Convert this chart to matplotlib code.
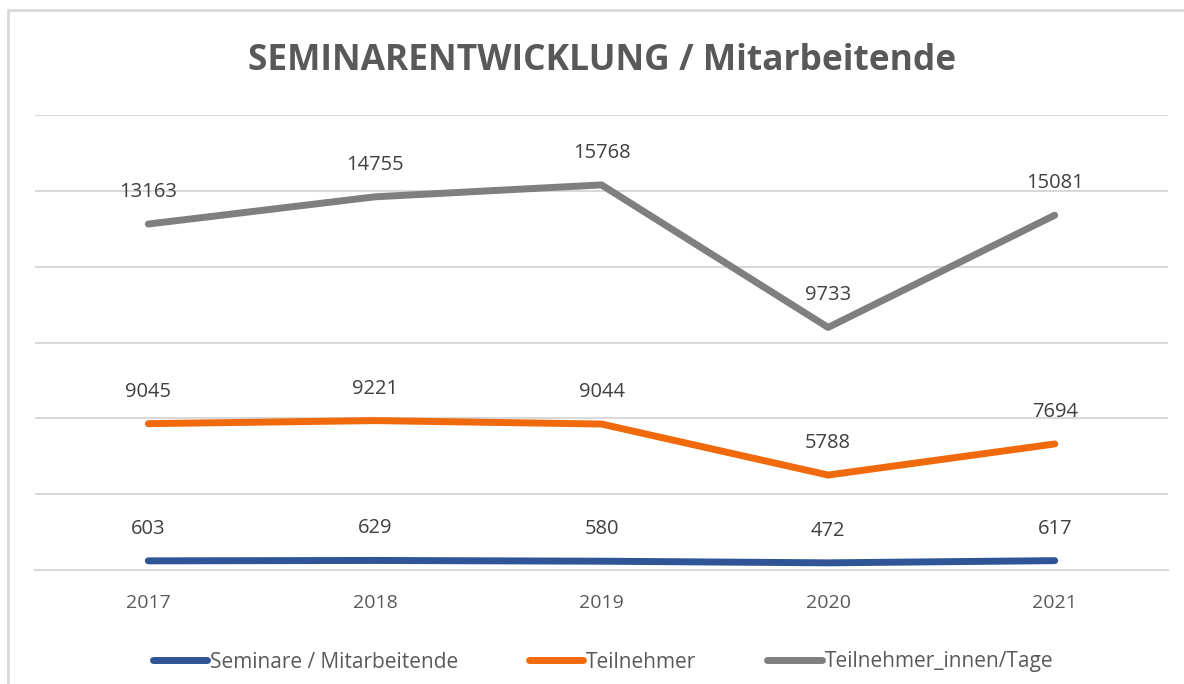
import numpy as np
import matplotlib.pyplot as plt
from matplotlib.patches import Rectangle

# data (stacked line chart, labels show the single values)
years = ["2017", "2018", "2019", "2020", "2021"]
seminare = [603, 629, 580, 472, 617]
teilnehmer = [9045, 9221, 9044, 5788, 7694]
teilnehmer_tage = [13163, 14755, 15768, 9733, 15081]

series_names = ["Seminare / Mitarbeitende", "Teilnehmer", "Teilnehmer_innen/Tage"]
colors = ["#2f5597", "#f06a0c", "#7f7f7f"]

plt.rcParams["font.family"] = ["Open Sans", "DejaVu Sans"]
text_col = "#595959"

fig = plt.figure(figsize=(11.84, 6.84), dpi=100)
W, H = 1184, 684
ax = fig.add_axes([35 / W, 114 / H, (1168 - 35) / W, (570 - 115) / H])

# chart border
fig.patches.append(Rectangle((8 / W, -0.1), 1.2, (684 - 10) / H + 0.1,
                             transform=fig.transFigure, fill=False,
                             edgecolor="#d9d9d9", linewidth=2))

x = np.arange(len(years))
stacked = np.cumsum([seminare, teilnehmer, teilnehmer_tage], axis=0)
values = [seminare, teilnehmer, teilnehmer_tage]

for i in range(3):
    ax.plot(x, stacked[i], color=colors[i], linewidth=5,
            solid_capstyle="round", solid_joinstyle="round",
            label=series_names[i], zorder=3)
    for xi, yi, v in zip(x, stacked[i], values[i]):
        ax.annotate(str(v), (xi, yi), xytext=(0, 32), textcoords="offset pixels",
                    ha="center", va="center", fontsize=14.5, color="#404040")

ax.set_xlim(-0.5, len(years) - 0.5)
ax.set_ylim(0, 30000)
ax.set_yticks(np.arange(0, 30001, 5000))
ax.yaxis.grid(True, color="#d9d9d9", linewidth=1.5)
ax.set_axisbelow(True)
ax.tick_params(axis="y", left=False, labelleft=False)
ax.tick_params(axis="x", length=0, pad=17, labelsize=14, labelcolor=text_col)
ax.set_xticks(x)
ax.set_xticklabels(years)
for s in ["top", "right", "left"]:
    ax.spines[s].set_visible(False)
ax.spines["bottom"].set_color("#d9d9d9")
ax.spines["bottom"].set_linewidth(1.5)

fig.text(602 / W, 1 - 61 / H, "SEMINARENTWICKLUNG / Mitarbeitende",
         ha="center", va="center", fontsize=25.5, fontweight="bold", color=text_col)

fig.legend(loc="center", bbox_to_anchor=(603 / W, 1 - 662 / H), ncol=3,
           frameon=False, fontsize=15, handlelength=2.6, handletextpad=0.15,
           columnspacing=3.4, labelcolor=text_col)

fig.savefig("out.png", dpi=100)
